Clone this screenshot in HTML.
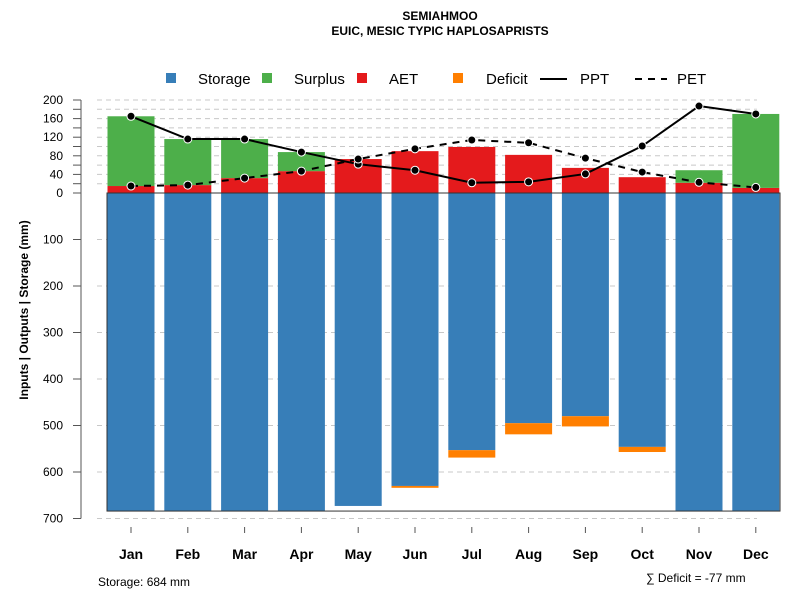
<!DOCTYPE html>
<html><head><meta charset="utf-8"><style>body{margin:0;background:#fff}svg{display:block;font-family:"Liberation Sans",sans-serif}</style></head>
<body>
<svg id="chart" width="800" height="600" xmlns="http://www.w3.org/2000/svg">
<text x="440" y="20" font-size="12" font-weight="bold" text-anchor="middle">SEMIAHMOO</text>
<text x="440" y="35" font-size="12" font-weight="bold" text-anchor="middle">EUIC, MESIC TYPIC HAPLOSAPRISTS</text>
<g font-size="15">
<rect x="166" y="73" width="10" height="10" fill="#377eb8"/><text x="198" y="84">Storage</text>
<rect x="262" y="73" width="10" height="10" fill="#4daf4a"/><text x="294" y="84">Surplus</text>
<rect x="357" y="73" width="10" height="10" fill="#e41a1c"/><text x="389" y="84">AET</text>
<rect x="453" y="73" width="10" height="10" fill="#ff7f00"/><text x="486" y="84">Deficit</text>
<line x1="540" y1="79" x2="567" y2="79" stroke="#000" stroke-width="2"/><text x="580" y="84">PPT</text>
<line x1="635" y1="79" x2="667" y2="79" stroke="#000" stroke-width="2" stroke-dasharray="7,6"/><text x="677" y="84">PET</text>
</g>
<g id="grid"></g><g id="bars"></g><g id="lines"></g><g id="axes"></g>
<text transform="translate(28,310) rotate(-90)" font-size="12" font-weight="bold" text-anchor="middle">Inputs | Outputs | Storage     (mm)</text>
<text x="98" y="586" font-size="12">Storage: 684 mm</text>
<text x="646" y="582" font-size="12">∑ Deficit = -77 mm</text>
</svg>
<script>
const months=["Jan","Feb","Mar","Apr","May","Jun","Jul","Aug","Sep","Oct","Nov","Dec"];
const storage=[684,684,684,684,673,630,553,495,480,546,684,684];
const deficit=[0,0,0,0,0,4,16,24,22,11,0,0];
const aet=[15,17,32,47,73,90,99,82,54,34,22,11];
const surplus=[150,99,84,41,0,0,0,0,0,0,27,159];
const ppt=[165,116,116,88,62,49,22,24,41,101,187,170];
const pet=[15,17,32,47,73,95,114,108,75,45,23,12];
const posTicks=[0,40,80,120,160,200];
const negTicks=[100,200,300,400,500,600,700];
const NS="http://www.w3.org/2000/svg";
const y0=193,k=0.465;
const yUp=v=>y0-v*k, yDn=v=>y0+v*k;
const xc=i=>131+i*56.8, bw=47;
function mk(tag,attrs,parent){const e=document.createElementNS(NS,tag);for(const a in attrs)e.setAttribute(a,attrs[a]);document.getElementById(parent).appendChild(e);return e;}
// grid
for(let v=20;v<=200;v+=20){const e=mk('line',{x1:97,x2:757,y1:yUp(v),y2:yUp(v),stroke:'#c8c8c8','stroke-dasharray':'5,4'},'grid');

}
negTicks.forEach(v=>{const e=mk('line',{x1:97,x2:757,y1:yDn(v),y2:yDn(v),stroke:'#c8c8c8','stroke-dasharray':'5,4'},'grid');

});
months.forEach((m,i)=>{
 const x=xc(i)-bw/2;
 let r=mk('rect',{x:x,y:y0,width:bw,height:storage[i]*k,fill:'#377eb8'},'bars');
 
 
 if(deficit[i]>0){r=mk('rect',{x:x,y:yDn(storage[i]),width:bw,height:deficit[i]*k,fill:'#ff7f00'},'bars');
 
 }
 r=mk('rect',{x:x,y:yUp(aet[i]),width:bw,height:aet[i]*k,fill:'#e41a1c'},'bars');
 
 
 if(surplus[i]>0){r=mk('rect',{x:x,y:yUp(aet[i]+surplus[i]),width:bw,height:surplus[i]*k,fill:'#4daf4a'},'bars');
 
 }
});
let f=mk('rect',{x:107,y:y0,width:673,height:684*k,fill:'none',stroke:'#333','stroke-width':1},'bars');


[[ppt,'none','ppt'],[pet,'7,6','pet']].forEach(([s,d,n])=>{
 const l=mk('polyline',{points:s.map((v,i)=>xc(i)+','+yUp(v)).join(' '),fill:'none',stroke:'#000','stroke-width':2,'stroke-dasharray':d},'lines');
 
 
 s.forEach((v,i)=>{const c=mk('circle',{cx:xc(i),cy:yUp(v),r:4,fill:'#000',stroke:'#fff','stroke-width':1},'lines');
 
 });
});
// axes
let a=mk('line',{x1:81,x2:81,y1:yUp(200),y2:yDn(700),stroke:'#555'},'axes');


for(let v=0;v<=200;v+=20){const t=mk('line',{x1:73,x2:81,y1:yUp(v),y2:yUp(v),stroke:'#555'},'axes');

}
posTicks.forEach(v=>{const t=mk('text',{x:63,y:yUp(v)+4,'font-size':12,'text-anchor':'end'},'axes');t.textContent=v;

});
negTicks.forEach(v=>{const t=mk('line',{x1:73,x2:81,y1:yDn(v),y2:yDn(v),stroke:'#555'},'axes');


const tx=mk('text',{x:63,y:yDn(v)+4,'font-size':12,'text-anchor':'end'},'axes');tx.textContent=v;

});
months.forEach((m,i)=>{const t=mk('line',{x1:xc(i),x2:xc(i),y1:527,y2:533,stroke:'#555'},'axes');


const tx=mk('text',{x:xc(i),y:559,'font-size':14,'font-weight':'bold','text-anchor':'middle'},'axes');tx.textContent=m;

});
</script>
</body></html>
